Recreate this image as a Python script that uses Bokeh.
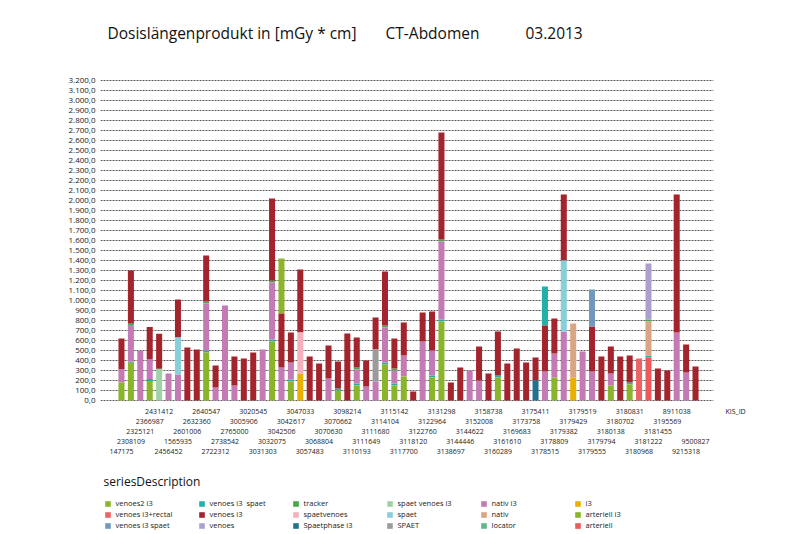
from bokeh.plotting import figure
from bokeh.models import (ColumnDataSource, FixedTicker, Range1d, Legend, LegendItem, Label,
                          LinearAxis)
from bokeh.core.properties import value
from bokeh.embed import file_html
from bokeh.resources import INLINE

TITLE = "Dosislängenprodukt in [mGy * cm]"
MODALITY = "CT-Abdomen"
PERIOD = "03.2013"
X_TITLE = "KIS_ID"
LEGEND_TITLE = "seriesDescription"

# legend order (row by row, 6 columns)
SERIES = [
    "venoes2 i3", "venoes i3  spaet", "tracker", "spaet venoes i3", "nativ i3", "i3",
    "venoes i3+rectal", "venoes i3", "spaetvenoes", "spaet", "nativ", "arteriell i3",
    "venoes i3 spaet", "venoes", "Spaetphase i3", "SPAET", "locator", "arteriell",
]
COLORS = [
    "#8db52b", "#22b1a8", "#47a84a", "#9dd3a6", "#c47ab4", "#e9b000",
    "#ec6363", "#a3242c", "#f4b0bb", "#88cfdc", "#d9a583", "#8ab42a",
    "#7398bd", "#ad9fd0", "#24718f", "#9b9b9b", "#5cb98a", "#ee5a5a",
]

KIS_IDS = [
    "147175", "2308109", "2325121", "2366987", "2431412", "2456452", "1565935",
    "2601006", "2632360", "2640547", "2722312", "2738542", "2765000", "3005906",
    "3020545", "3031303", "3032075", "3042506", "3042617", "3047033", "3057483",
    "3068804", "3070630", "3070662", "3098214", "3110193", "3111649", "3111680",
    "3114104", "3115142", "3117700", "3118120", "3122760", "3122964", "3131298",
    "3138697", "3144446", "3144622", "3152008", "3158738", "3160289", "3161610",
    "3169683", "3173758", "3175411", "3178515", "3178809", "3179382", "3179429",
    "3179519", "3179555", "3179794", "3180138", "3180702", "3180831", "3180968",
    "3181222", "3181455", "3195569", "8911038", "9215318", "9500827",
]

# stacked segments per KIS_ID, bottom to top: (seriesDescription, value)
STACKS = [
    [("arteriell i3", 180), ("nativ i3", 135), ("venoes i3", 305)],
    [("arteriell i3", 378), ("venoes i3  spaet", 10), ("nativ i3", 367), ("tracker", 20), ("venoes i3", 525)],
    [("nativ i3", 495)],
    [("arteriell i3", 195), ("venoes i3  spaet", 20), ("nativ i3", 200), ("venoes i3", 320)],
    [("spaet venoes i3", 318), ("venoes i3", 350)],
    [("nativ i3", 270)],
    [("nativ i3", 260), ("spaet", 370), ("venoes i3", 380)],
    [("venoes i3", 530)],
    [("venoes i3", 510)],
    [("arteriell i3", 480), ("venoes i3  spaet", 20), ("nativ i3", 470), ("tracker", 20), ("venoes i3", 460)],
    [("nativ i3", 130), ("venoes i3", 220)],
    [("nativ i3", 950)],
    [("nativ i3", 150), ("venoes i3", 290)],
    [("venoes i3", 420)],
    [("venoes i3", 480)],
    [("nativ i3", 510)],
    [("arteriell i3", 590), ("venoes i3  spaet", 20), ("nativ i3", 570), ("tracker", 20), ("venoes i3", 820)],
    [("nativ i3", 330), ("venoes i3", 540), ("venoes2 i3", 550)],
    [("arteriell i3", 190), ("venoes i3  spaet", 20), ("nativ i3", 170), ("venoes i3", 300)],
    [("i3", 270), ("spaetvenoes", 410), ("venoes i3", 630)],
    [("venoes i3", 440)],
    [("venoes i3", 370)],
    [("nativ i3", 220), ("venoes i3", 330)],
    [("arteriell i3", 100), ("venoes i3  spaet", 20), ("venoes i3", 270)],
    [("venoes i3", 670)],
    [("arteriell i3", 150), ("venoes i3  spaet", 20), ("nativ i3", 140), ("tracker", 20), ("venoes i3", 300)],
    [("nativ i3", 140), ("venoes i3", 260)],
    [("nativ i3", 190), ("SPAET", 320), ("venoes i3", 320)],
    [("arteriell i3", 360), ("venoes i3  spaet", 20), ("nativ i3", 350), ("tracker", 20), ("venoes i3", 540)],
    [("arteriell i3", 150), ("venoes i3  spaet", 20), ("nativ i3", 130), ("tracker", 20), ("venoes i3", 300)],
    [("arteriell i3", 240), ("nativ i3", 210), ("venoes i3", 330)],
    [("venoes i3", 90)],
    [("nativ i3", 590), ("venoes i3", 290)],
    [("arteriell i3", 230), ("venoes i3  spaet", 20), ("nativ i3", 250), ("venoes i3", 390)],
    [("arteriell i3", 790), ("venoes i3  spaet", 20), ("nativ i3", 780), ("tracker", 20), ("venoes i3", 1070)],
    [("venoes i3", 180)],
    [("venoes i3", 330)],
    [("nativ i3", 300)],
    [("nativ i3", 200), ("venoes i3", 340)],
    [("venoes i3", 270)],
    [("arteriell i3", 230), ("venoes i3  spaet", 20), ("venoes i3", 440)],
    [("venoes i3", 370)],
    [("venoes i3", 520)],
    [("venoes i3", 380)],
    [("Spaetphase i3", 200), ("venoes i3", 230)],
    [("nativ i3", 290), ("venoes i3", 460), ("venoes i3  spaet", 390)],
    [("arteriell i3", 230), ("nativ i3", 240), ("venoes i3", 350)],
    [("nativ i3", 690), ("spaet", 710), ("venoes i3", 660)],
    [("i3", 230), ("nativ", 540)],
    [("nativ i3", 490)],
    [("nativ i3", 290), ("venoes i3", 450), ("venoes i3 spaet", 370)],
    [("venoes i3", 440)],
    [("arteriell i3", 150), ("nativ i3", 120), ("venoes i3", 270)],
    [("venoes i3", 440)],
    [("arteriell i3", 160), ("venoes i3  spaet", 20), ("venoes i3", 270)],
    [("venoes i3+rectal", 420)],
    [("arteriell", 430), ("venoes i3  spaet", 20), ("nativ", 340), ("tracker", 20), ("venoes", 560)],
    [("venoes i3", 320)],
    [("venoes i3", 300)],
    [("nativ i3", 680), ("venoes i3", 1380)],
    [("nativ i3", 280), ("venoes i3", 280)],
    [("venoes i3", 340)],
]

Y_TICKS = list(range(0, 3201, 100))


def de_number(v):
    s = f"{v:,.1f}"
    return s.replace(",", "X").replace(".", ",").replace("X", ".")


FONT = "Open Sans"
W, H = 787, 530

# 1 px = 10 data units vertically; the frame spans the whole height of the figure
p = figure(width=W, height=H,
           x_range=Range1d(-2.23, 62.91), y_range=Range1d(-1300, 4000),
           output_backend="svg", toolbar_location=None, x_axis_location=None,
           min_border_left=100, min_border_right=W - 713,
           min_border_top=0, min_border_bottom=0)
p.outline_line_color = None
p.background_fill_color = "white"
p.border_fill_color = "white"

# build per-series stacked segments
seg = {name: dict(x=[], bottom=[], top=[]) for name in SERIES}
for i, stack in enumerate(STACKS):
    base = 0
    for name, val in stack:
        seg[name]["x"].append(i)
        seg[name]["bottom"].append(base)
        seg[name]["top"].append(base + val)
        base += val

items = []
for name, color in zip(SERIES, COLORS):
    data = seg[name]
    if not data["x"]:
        # series present only in the legend: a swatch-only proxy (nothing drawn)
        data = dict(x=[float("nan")], bottom=[0], top=[0])
    src = ColumnDataSource(data)
    r = p.vbar(x="x", bottom="bottom", top="top", width=0.64, source=src,
               fill_color=color, line_color=None)
    items.append(LegendItem(label=name, renderers=[r]))

# grid and y axis
p.xgrid.visible = False
p.ygrid.ticker = FixedTicker(ticks=Y_TICKS)
p.ygrid.grid_line_color = "#5a5a5a"
p.ygrid.grid_line_dash = "2 1"
p.ygrid.grid_line_width = 1

ya = p.yaxis[0]
ya.ticker = FixedTicker(ticks=Y_TICKS)
ya.major_label_overrides = {t: de_number(t) for t in Y_TICKS}
ya.axis_line_color = None
ya.major_tick_line_color = None
ya.minor_tick_line_color = None
ya.major_tick_out = 0
ya.major_tick_in = 0
ya.minor_tick_out = 0
ya.major_label_text_font = FONT
ya.major_label_text_font_size = "8px"
ya.major_label_text_color = "#222222"
ya.major_label_standoff = 5

# staggered KIS_ID labels (5 rows) under the bars
lab_src = ColumnDataSource(dict(
    x=list(range(len(KIS_IDS))),
    y=[-110 - 100 * (4 - i % 5) for i in range(len(KIS_IDS))],
    text=KIS_IDS,
))
p.text(x="x", y="y", text="text", source=lab_src, text_font=value(FONT),
       text_font_size=value("7px"), text_color="#222222",
       text_align="center", text_baseline="middle")

# axis title on the right, level with the first label row
ra = LinearAxis(ticker=FixedTicker(ticks=[-110]), major_label_overrides={-110: X_TITLE})
ra.axis_line_color = None
ra.major_tick_line_color = None
ra.minor_tick_line_color = None
ra.major_tick_out = 0
ra.major_tick_in = 0
ra.minor_tick_out = 0
ra.major_label_standoff = 12
ra.major_label_text_font = FONT
ra.major_label_text_font_size = "7px"
ra.major_label_text_color = "#111111"
p.add_layout(ra, "right")

# titles
for txt, xpos in ((TITLE, -1.49), (MODALITY, 28.06), (PERIOD, 42.93)):
    p.add_layout(Label(x=xpos, y=3680, text=txt, text_font=FONT, text_font_size="15.5px",
                       text_color="#111111", text_baseline="middle", text_align="left"))

legend = Legend(items=items, orientation="horizontal", ncols=6,
                location=(3.5, 0), title=LEGEND_TITLE,
                title_text_font=FONT, title_text_font_size="12px", title_text_font_style="normal",
                title_text_color="#111111", title_standoff=8,
                label_text_font=FONT, label_text_font_size="7.5px", label_text_color="#222222",
                glyph_width=7, glyph_height=7, label_height=7, label_width=81,
                label_standoff=5, spacing=1, padding=0, margin=0,
                border_line_color=None, background_fill_alpha=0)
p.add_layout(legend)

open("out.html", "w").write(file_html(p, INLINE))
